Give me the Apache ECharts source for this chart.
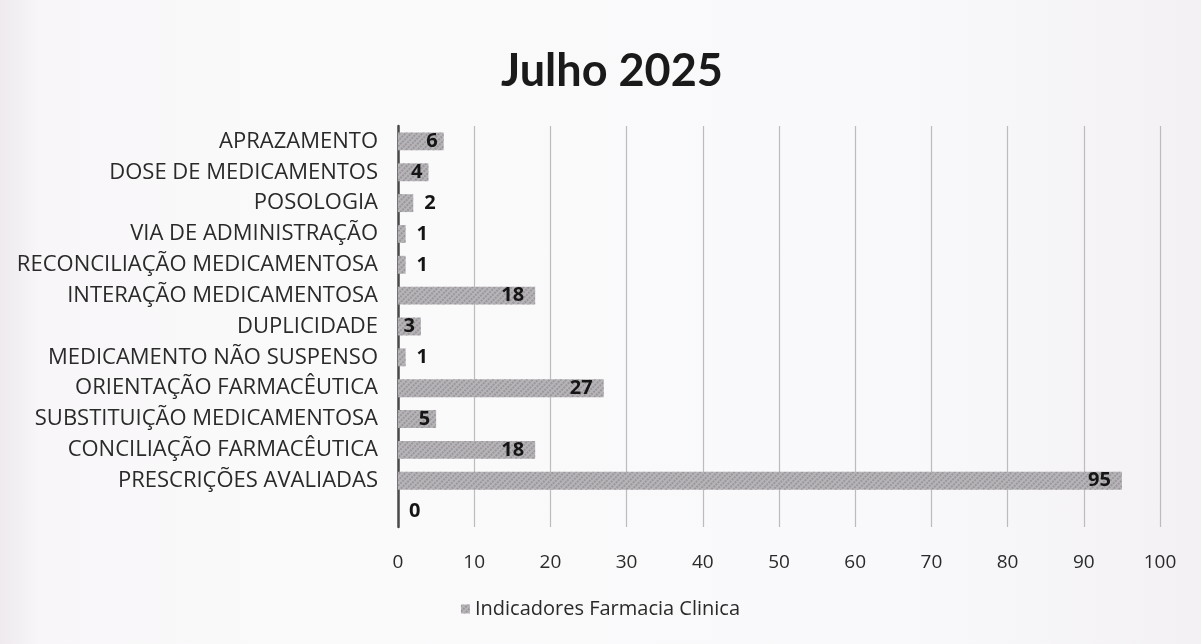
<!DOCTYPE html>
<html>
<head>
<meta charset="utf-8">
<script src="https://cdn.jsdelivr.net/npm/echarts@6/dist/echarts.min.js"></script>
<style>
  html, body { margin: 0; padding: 0; }
  body {
    width: 1201px; height: 644px; overflow: hidden;
    background: linear-gradient(90deg, #eeeaee 0px, #f8f6f8 40px, #fbfafb 300px, #f9f8fa 900px, #f3f1f4 1201px);
  }
  #chart { width: 1201px; height: 644px; }
</style>
</head>
<body>
<div id="chart"></div>
<script>
// Indicadores de farmácia clínica – julho 2025 (ordem de cima para baixo)
const categories = [
  'APRAZAMENTO',
  'DOSE DE MEDICAMENTOS',
  'POSOLOGIA',
  'VIA DE ADMINISTRAÇÃO',
  'RECONCILIAÇÃO MEDICAMENTOSA',
  'INTERAÇÃO MEDICAMENTOSA',
  'DUPLICIDADE',
  'MEDICAMENTO NÃO SUSPENSO',
  'ORIENTAÇÃO FARMACÊUTICA',
  'SUBSTITUIÇÃO MEDICAMENTOSA',
  'CONCILIAÇÃO FARMACÊUTICA',
  'PRESCRIÇÕES AVALIADAS',
  ''
];
const values = [6, 4, 2, 1, 1, 18, 3, 1, 27, 5, 18, 95, 0];
const xTicks = [0, 10, 20, 30, 40, 50, 60, 70, 80, 90, 100];
const seriesName = 'Indicadores Farmacia Clinica';
const titleText = 'Julho 2025';

const FONT = '"Open Sans", Lato, sans-serif';

// small bars get their label outside, the rest inside the bar end
const barData = values.map(v => ({
  value: v,
  label: { position: v >= 3 ? 'insideRight' : 'right', distance: v >= 10 ? 11 : (v >= 3 ? 6 : 11) }
}));

const chart = echarts.init(document.getElementById('chart'), null, { renderer: 'canvas' });
chart.setOption({
  backgroundColor: 'transparent',
  animation: false,
  title: {
    text: titleText,
    left: 496,
    top: 44,
    textStyle: { fontFamily: 'Lato, sans-serif', fontSize: 45, fontWeight: 'bold', color: '#1a1a1a' }
  },
  legend: {
    bottom: 20,
    left: 'center',
    icon: 'rect',
    itemWidth: 9,
    itemHeight: 9,
    itemGap: 6,
    textStyle: { fontFamily: FONT, fontSize: 20, color: '#2a2a2a' },
    data: [seriesName]
  },
  grid: { left: 398, right: 41, top: 126, bottom: 117, containLabel: false },
  xAxis: {
    type: 'value',
    min: xTicks[0],
    max: xTicks[xTicks.length - 1],
    interval: xTicks[1] - xTicks[0],
    axisLine: { show: false },
    axisTick: { show: false },
    axisLabel: { fontFamily: FONT, fontSize: 19, color: '#2a2a2a', margin: 26 },
    splitLine: { show: true, lineStyle: { color: '#bdbbbe', width: 1.2 } }
  },
  yAxis: {
    type: 'category',
    inverse: true,
    data: categories,
    axisLine: { show: true, lineStyle: { color: '#4a4a4a', width: 2.5 } },
    axisTick: { show: false },
    axisLabel: { fontFamily: FONT, fontSize: 22, color: '#2a2a2a', margin: 20 }
  },
  series: [{
    name: seriesName,
    type: 'bar',
    data: barData,
    barCategoryGap: '42%',
    itemStyle: {
      color: '#b7b4b8',
      decal: {
        symbol: 'rect',
        symbolSize: 1,
        dashArrayX: [[2, 2]],
        dashArrayY: [2, 1],
        rotation: Math.PI / 4,
        color: 'rgba(125,122,128,0.5)'
      }
    },
    label: {
      show: true,
      fontFamily: FONT,
      fontSize: 20,
      fontWeight: 'bold',
      color: '#151515'
    }
  }]
});
</script>
</body>
</html>
